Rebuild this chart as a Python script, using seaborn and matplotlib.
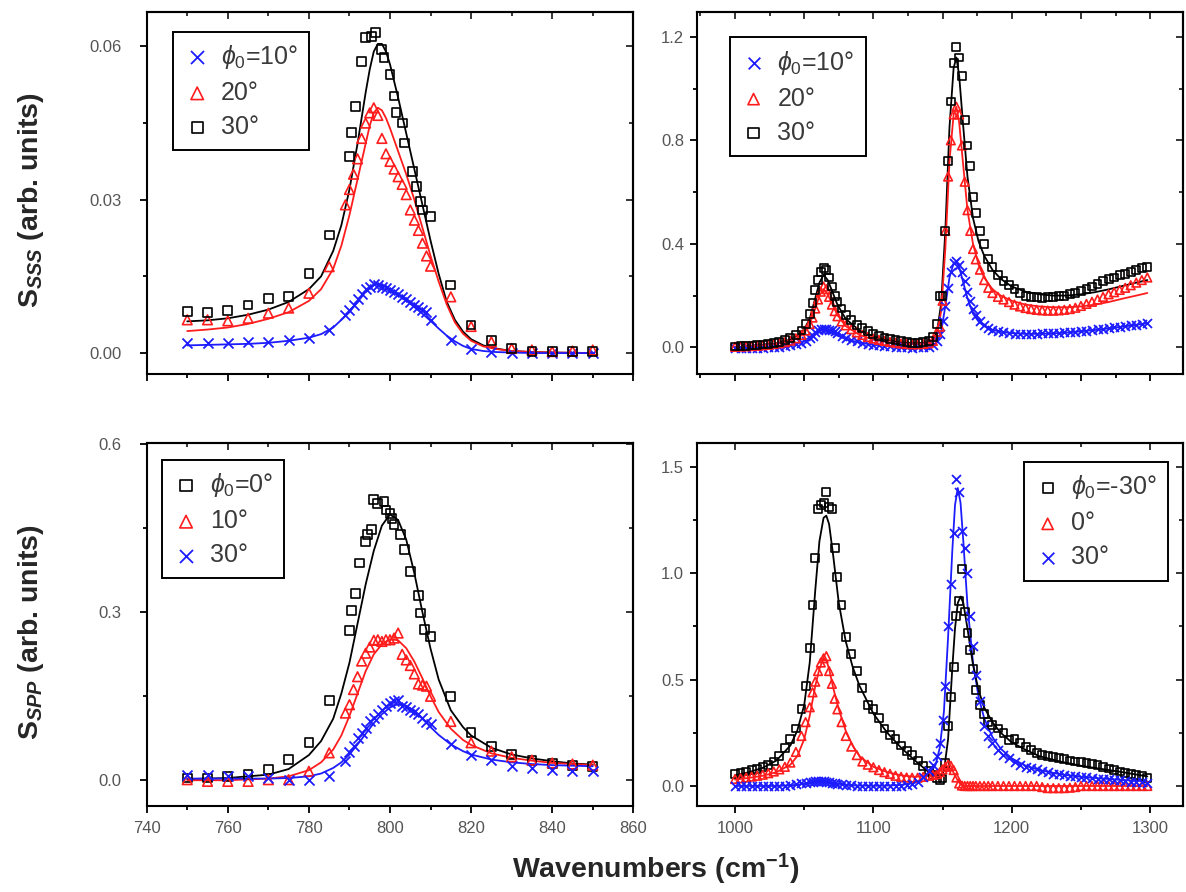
import seaborn as sns
import matplotlib.pyplot as plt
from matplotlib.ticker import MultipleLocator, FormatStrFormatter

# ---------------- top left: S_SSS, 750-850 cm-1 ----------------
a_x_blue = [750, 755, 760, 765, 770, 775, 780, 785,
            789, 790, 791, 792, 793, 794, 795, 796, 797, 798, 799, 800, 801,
            802, 803, 804, 805, 806, 807, 808, 809, 810,
            815, 820, 825, 830, 835, 840, 845, 850]
a_y_blue = [0.002, 0.002, 0.002, 0.0022, 0.0022, 0.0025, 0.003, 0.0045,
            0.0075, 0.0085, 0.0095, 0.0105, 0.0115, 0.0125, 0.013, 0.0135, 0.0133, 0.013, 0.0127, 0.0123, 0.012,
            0.0115, 0.011, 0.0105, 0.010, 0.0095, 0.009, 0.0085, 0.008, 0.0065,
            0.0025, 0.0008, 0.0002, 0.0, 0.0, 0.0, 0.0, 0.0]
a_x_red = a_x_blue
a_y_red = [0.0065, 0.0065, 0.0063, 0.0068, 0.0078, 0.0088, 0.0117, 0.0169,
           0.029, 0.032, 0.035, 0.038, 0.042, 0.045, 0.047, 0.048, 0.0465, 0.042, 0.039, 0.0375, 0.036,
           0.0345, 0.033, 0.031, 0.028, 0.026, 0.024, 0.0215, 0.019, 0.017,
           0.011, 0.0052, 0.0022, 0.0009, 0.0006, 0.0003, 0.0004, 0.0006]
a_x_black = [750, 755, 760, 765, 770, 775, 780, 785,
             790, 790.5, 791.5, 793, 794, 795.5, 796.5, 798, 798.5, 800, 801, 801.5,
             803, 803.5, 805.5, 806.5, 807.5, 808, 810,
             815, 820, 825, 830, 835, 840, 845, 850]
a_y_black = [0.0081, 0.0079, 0.0084, 0.0094, 0.0107, 0.011, 0.0156, 0.0231,
             0.0385, 0.0431, 0.0483, 0.0571, 0.0617, 0.062, 0.0627, 0.0594, 0.0578, 0.0545, 0.0503, 0.047,
             0.045, 0.0411, 0.0356, 0.0326, 0.0297, 0.028, 0.0267,
             0.0133, 0.0055, 0.0025, 0.0009, 0.0003, 0.0003, 0.0003, 0.0003]
a_fit_x = [750, 755, 760, 765, 770, 775, 780, 783, 786, 788, 790, 792, 794,
           795, 796, 797, 798, 799, 800, 802, 804, 806, 808, 810, 812, 814, 816, 818, 820,
           823, 826, 830, 835, 840, 850]
a_fit_black = [0.0062, 0.0064, 0.0068, 0.0075, 0.0085, 0.0100, 0.0125, 0.015, 0.020, 0.025, 0.032, 0.041, 0.051,
               0.0555, 0.0590, 0.0605, 0.0605, 0.059, 0.0565, 0.050, 0.043, 0.036, 0.029, 0.022, 0.0155, 0.010,
               0.0065, 0.0042, 0.0027, 0.0015, 0.0009, 0.0004, 0.0002, 0.0001, 0.0]
a_fit_red = [0.0043, 0.0046, 0.005, 0.0057, 0.0067, 0.008, 0.0102, 0.0125, 0.0165, 0.021, 0.027, 0.034, 0.041,
             0.0445, 0.047, 0.048, 0.0475, 0.046, 0.044, 0.0395, 0.035, 0.030, 0.0245, 0.019, 0.014, 0.0095,
             0.006, 0.0038, 0.0024, 0.0013, 0.0008, 0.0004, 0.0002, 0.0001, 0.0]
a_fit_blue = [0.0015, 0.0016, 0.0017, 0.0018, 0.002, 0.0024, 0.003, 0.0037, 0.005, 0.0065, 0.008, 0.010, 0.012,
              0.0127, 0.0133, 0.0135, 0.0133, 0.013, 0.0125, 0.0115, 0.0103, 0.009, 0.0077, 0.0063, 0.0048, 0.0034,
              0.0023, 0.0014, 0.0008, 0.0004, 0.0002, 0.0001, 0.0, 0.0, 0.0]

# ---------------- wavenumber grid of the 1000-1300 spectra ----------------
wn_hi = [1000, 1004, 1008, 1012, 1016, 1020, 1024, 1028, 1032, 1036, 1040, 1044, 1048, 1051, 1054,
         1056, 1058, 1060, 1062, 1064, 1066, 1068, 1070, 1072, 1074, 1077, 1080,
         1084, 1088, 1092, 1096, 1100, 1104, 1108, 1112, 1116, 1120, 1124, 1128, 1132, 1136, 1140, 1143, 1146,
         1148, 1150, 1152, 1154, 1156, 1158, 1160, 1162, 1164, 1166, 1168, 1170, 1172, 1174,
         1177, 1180, 1183, 1186,
         1190, 1194, 1198, 1202, 1206, 1210, 1214, 1218, 1222, 1226, 1230, 1234, 1238, 1242, 1246,
         1250, 1254, 1258, 1262, 1266, 1270, 1274, 1278, 1282, 1286, 1290, 1294, 1298]

# ---------------- top right: S_SSS, 1000-1300 cm-1 ----------------
b_y_blue = [-0.003, -0.003, -0.002, -0.003, -0.002, -0.002, 0.0, 0.0, 0.003, 0.005, 0.008, 0.012, 0.018, 0.025, 0.035,
            0.045, 0.06, 0.066, 0.07, 0.071, 0.07, 0.068, 0.066, 0.062, 0.056, 0.045, 0.036,
            0.029, 0.023, 0.018, 0.014, 0.010, 0.008, 0.006, 0.004, 0.002, 0.001, 0.0, -0.001, 0.0, 0.0, 0.002, 0.008, 0.025,
            0.05, 0.10, 0.16, 0.23, 0.29, 0.325, 0.335, 0.32, 0.29, 0.255, 0.215, 0.18, 0.15, 0.125,
            0.10, 0.085, 0.075, 0.068,
            0.062, 0.058, 0.055, 0.053, 0.052, 0.052, 0.052, 0.053, 0.054, 0.055, 0.056, 0.057, 0.058, 0.060, 0.061,
            0.063, 0.065, 0.067, 0.069, 0.072, 0.074, 0.077, 0.080, 0.082, 0.085, 0.088, 0.091, 0.094]
b_y_red = [0.002, 0.003, 0.004, 0.005, 0.006, 0.008, 0.010, 0.013, 0.016, 0.020, 0.026, 0.035, 0.048, 0.065, 0.09,
           0.115, 0.15, 0.185, 0.215, 0.235, 0.225, 0.195, 0.165, 0.14, 0.12, 0.10, 0.085,
           0.07, 0.058, 0.048, 0.04, 0.034, 0.029, 0.025, 0.021, 0.018, 0.015, 0.013, 0.012, 0.012, 0.013, 0.016, 0.025, 0.06,
           0.08, 0.18, 0.45, 0.66, 0.80, 0.90, 0.93, 0.90, 0.78, 0.64, 0.53, 0.45, 0.38, 0.34,
           0.30, 0.26, 0.23, 0.21,
           0.195, 0.185, 0.175, 0.165, 0.158, 0.152, 0.148, 0.145, 0.143, 0.142, 0.142, 0.143, 0.145, 0.148, 0.153,
           0.16, 0.168, 0.176, 0.185, 0.195, 0.205, 0.213, 0.222, 0.23, 0.24, 0.25, 0.26, 0.27]
b_y_black = [0.003, 0.004, 0.005, 0.007, 0.009, 0.011, 0.014, 0.017, 0.021, 0.027, 0.035, 0.047, 0.065, 0.09, 0.13,
             0.17, 0.22, 0.26, 0.29, 0.305, 0.30, 0.27, 0.235, 0.20, 0.175, 0.15, 0.125,
             0.105, 0.088, 0.074, 0.062, 0.053, 0.045, 0.038, 0.032, 0.027, 0.023, 0.02, 0.018, 0.018, 0.02, 0.026, 0.04, 0.09,
             0.20, 0.20, 0.45, 0.72, 0.95, 1.10, 1.16, 1.12, 1.05, 0.88, 0.78, 0.70, 0.58, 0.52,
             0.45, 0.40, 0.34, 0.31,
             0.28, 0.255, 0.24, 0.225, 0.21, 0.2, 0.195, 0.193, 0.192, 0.193, 0.195, 0.197, 0.20, 0.205, 0.21,
             0.217, 0.225, 0.235, 0.245, 0.255, 0.265, 0.27, 0.278, 0.285, 0.292, 0.30, 0.305, 0.31]
b_fit_x = [1000, 1010, 1020, 1030, 1040, 1045, 1050, 1054, 1058, 1061, 1064, 1067, 1070, 1074, 1080,
           1090, 1100, 1110, 1120, 1130, 1138, 1143, 1146, 1149, 1152, 1155, 1158, 1160, 1162, 1165,
           1168, 1172, 1176, 1180, 1186, 1192, 1200, 1210, 1220, 1230, 1240, 1250, 1260, 1270, 1280,
           1290, 1298]
b_fit_black = [0.0, 0.005, 0.01, 0.016, 0.03, 0.045, 0.07, 0.11, 0.19, 0.25, 0.28, 0.26, 0.22, 0.165, 0.11,
               0.065, 0.042, 0.028, 0.02, 0.016, 0.018, 0.03, 0.06, 0.17, 0.45, 0.85, 1.08, 1.12, 1.05, 0.85,
               0.66, 0.5, 0.41, 0.355, 0.3, 0.265, 0.235, 0.215, 0.205, 0.2, 0.2, 0.205, 0.213, 0.224, 0.237,
               0.25, 0.26]
b_fit_red = [0.0, 0.004, 0.008, 0.013, 0.024, 0.035, 0.055, 0.09, 0.15, 0.2, 0.225, 0.205, 0.17, 0.125, 0.082,
             0.048, 0.03, 0.02, 0.014, 0.012, 0.014, 0.025, 0.05, 0.14, 0.38, 0.72, 0.9, 0.93, 0.87, 0.7,
             0.53, 0.4, 0.32, 0.27, 0.225, 0.2, 0.18, 0.165, 0.158, 0.155, 0.155, 0.158, 0.165, 0.175, 0.188,
             0.2, 0.21]
b_fit_blue = [0.0, 0.0, 0.001, 0.003, 0.008, 0.014, 0.025, 0.04, 0.058, 0.067, 0.07, 0.067, 0.058, 0.045, 0.032,
              0.018, 0.01, 0.005, 0.002, 0.001, 0.002, 0.008, 0.02, 0.06, 0.16, 0.27, 0.325, 0.33, 0.31, 0.25,
              0.19, 0.13, 0.1, 0.082, 0.068, 0.06, 0.055, 0.052, 0.052, 0.054, 0.057, 0.062, 0.067, 0.073, 0.08,
              0.087, 0.093]

# ---------------- bottom left: S_SPP, 750-850 cm-1 ----------------
c_x_black = [750, 755, 760, 765, 770, 775, 780, 785,
             790, 790.5, 791.5, 792.5, 794, 794.5, 795.5, 796, 797, 798.5, 799, 800, 800.5,
             801, 802.5, 803.5, 805, 807, 807.5, 808.5, 810,
             815, 820, 825, 830, 835, 840, 845, 850]
c_y_black = [0.004, 0.004, 0.007, 0.010, 0.019, 0.037, 0.067, 0.142,
             0.268, 0.303, 0.333, 0.388, 0.427, 0.439, 0.448, 0.501, 0.495, 0.498, 0.483, 0.477, 0.468,
             0.457, 0.439, 0.412, 0.373, 0.330, 0.299, 0.269, 0.257,
             0.150, 0.085, 0.061, 0.046, 0.035, 0.03, 0.027, 0.025]
c_x_tri = [750, 755, 760, 765, 770, 775, 780, 785,
           789, 790, 791, 792, 793, 794, 795, 796, 797, 798, 799, 800, 801,
           802, 803, 804, 805, 806, 807, 808, 809, 810,
           815, 820, 825, 830, 835, 840, 845, 850]
c_y_red = [0.001, -0.002, -0.002, -0.002, 0.001, 0.001, 0.016, 0.049,
           0.12, 0.135, 0.162, 0.185, 0.213, 0.227, 0.238, 0.250, 0.251, 0.248, 0.251, 0.251, 0.254,
           0.263, 0.225, 0.215, 0.205, 0.19, 0.172, 0.17, 0.168, 0.15,
           0.105, 0.067, 0.052, 0.042, 0.036, 0.031, 0.029, 0.027]
c_y_blue = [0.010, 0.010, 0.007, 0.007, 0.004, 0.0, 0.0, 0.007,
            0.034, 0.05, 0.062, 0.076, 0.085, 0.093, 0.105, 0.111, 0.118, 0.125, 0.132, 0.138, 0.142,
            0.144, 0.132, 0.13, 0.126, 0.122, 0.118, 0.112, 0.104, 0.10,
            0.064, 0.046, 0.037, 0.025, 0.022, 0.019, 0.016, 0.016]
c_fit_x = [750, 760, 770, 775, 780, 783, 786, 788, 790, 792, 794, 796, 798, 800, 802,
           804, 806, 808, 810, 812, 815, 818, 820, 825, 830, 835, 840, 845, 850]
c_fit_black = [0.002, 0.004, 0.010, 0.02, 0.045, 0.07, 0.11, 0.155, 0.21, 0.28, 0.35, 0.41, 0.455, 0.475, 0.465,
               0.43, 0.37, 0.30, 0.235, 0.18, 0.125, 0.095, 0.08, 0.058, 0.046, 0.039, 0.034, 0.03, 0.028]
c_fit_red = [0.0, 0.0, 0.003, 0.007, 0.018, 0.032, 0.055, 0.08, 0.115, 0.155, 0.195, 0.225, 0.243, 0.252, 0.25,
             0.236, 0.212, 0.182, 0.15, 0.122, 0.092, 0.072, 0.063, 0.048, 0.04, 0.035, 0.031, 0.029, 0.027]
c_fit_blue = [0.003, 0.003, 0.003, 0.004, 0.007, 0.012, 0.022, 0.032, 0.046, 0.064, 0.083, 0.102, 0.118, 0.13, 0.136,
              0.133, 0.124, 0.11, 0.095, 0.081, 0.064, 0.052, 0.046, 0.037, 0.032, 0.029, 0.027, 0.026, 0.025]

# ---------------- bottom right: S_SPP, 1000-1300 cm-1 ----------------
d_y_black = [0.058, 0.062, 0.068, 0.074, 0.08, 0.088, 0.10, 0.115, 0.14, 0.18, 0.22, 0.27, 0.36, 0.47, 0.65,
             0.85, 1.07, 1.30, 1.32, 1.33, 1.38, 1.31, 1.30, 1.12, 0.98, 0.85, 0.70,
             0.62, 0.54, 0.46, 0.38, 0.36, 0.32, 0.27, 0.24, 0.22, 0.19, 0.165, 0.145, 0.12, 0.095, 0.07, 0.05, 0.035,
             0.03, 0.035, 0.11, 0.28, 0.42, 0.56, 0.80, 0.87, 1.02, 0.82, 0.72, 0.64, 0.55, 0.45,
             0.38, 0.34, 0.30, 0.285,
             0.27, 0.25, 0.215, 0.22, 0.20, 0.185, 0.17, 0.155, 0.145, 0.14, 0.135, 0.13, 0.125, 0.12, 0.115,
             0.112, 0.108, 0.104, 0.098, 0.09, 0.082, 0.075, 0.068, 0.062, 0.057, 0.05, 0.045, 0.038]
d_y_red = [0.033, 0.036, 0.04, 0.044, 0.048, 0.053, 0.06, 0.068, 0.078, 0.09, 0.11, 0.16, 0.235, 0.30, 0.37,
           0.44, 0.49, 0.54, 0.58, 0.60, 0.61, 0.54, 0.48, 0.41, 0.36, 0.30, 0.235,
           0.185, 0.145, 0.115, 0.10, 0.088, 0.075, 0.065, 0.057, 0.048, 0.043, 0.04, 0.039, 0.039, 0.043, 0.048, 0.052, 0.056,
           0.065, 0.078, 0.09, 0.10, 0.095, 0.075, 0.04, 0.012, 0.002, 0.0, 0.0, 0.0, 0.0, 0.0,
           0.0, 0.0, 0.0, 0.0,
           0.0, 0.0, 0.0, 0.0, 0.0, 0.0, 0.0, 0.0, -0.005, -0.01, -0.01, -0.01, -0.01, -0.008, -0.005,
           0.0, 0.0, 0.0, 0.0, 0.0, 0.0, 0.0, 0.0, 0.0, 0.0, 0.0, 0.0, 0.0]
d_y_blue = [0.0, 0.0, 0.0, 0.0, 0.0, 0.0, 0.0, 0.0, 0.0, 0.002, 0.005, 0.008, 0.012, 0.015, 0.018,
            0.02, 0.022, 0.022, 0.023, 0.022, 0.02, 0.018, 0.015, 0.012, 0.01, 0.008, 0.006,
            0.004, 0.002, 0.0, 0.0, 0.0, 0.0, 0.0, 0.0, 0.0, 0.002, 0.005, 0.01, 0.02, 0.04, 0.07, 0.10, 0.14,
            0.20, 0.31, 0.47, 0.75, 0.95, 1.19, 1.44, 1.38, 1.20, 1.12, 1.0, 0.80, 0.66, 0.52,
            0.40, 0.28, 0.235, 0.20,
            0.17, 0.145, 0.13, 0.115, 0.10, 0.09, 0.085, 0.078, 0.07, 0.065, 0.058, 0.055, 0.05, 0.048, 0.045,
            0.042, 0.04, 0.038, 0.035, 0.033, 0.031, 0.028, 0.026, 0.023, 0.021, 0.019, 0.017, 0.015]
d_fit_x = [1000, 1010, 1020, 1030, 1040, 1045, 1050, 1054, 1058, 1061, 1064, 1066, 1068, 1071, 1075,
           1080, 1085, 1090, 1100, 1110, 1120, 1130, 1140, 1145, 1148, 1151, 1154, 1157, 1159, 1161,
           1163, 1165, 1168, 1172, 1176, 1180, 1186, 1192, 1200, 1210, 1220, 1235, 1250, 1265, 1280,
           1298]
d_fit_black = [0.05, 0.065, 0.085, 0.12, 0.19, 0.26, 0.38, 0.58, 0.92, 1.15, 1.26, 1.27, 1.23, 1.08, 0.86,
               0.68, 0.56, 0.47, 0.34, 0.25, 0.18, 0.12, 0.065, 0.045, 0.04, 0.07, 0.22, 0.55, 0.74, 0.86,
               0.89, 0.86, 0.74, 0.57, 0.45, 0.37, 0.3, 0.25, 0.205, 0.17, 0.14, 0.115, 0.095, 0.08, 0.065,
               0.045]
d_fit_red = [0.03, 0.038, 0.048, 0.065, 0.1, 0.14, 0.22, 0.33, 0.47, 0.55, 0.6, 0.59, 0.55, 0.46, 0.36,
             0.26, 0.19, 0.14, 0.09, 0.065, 0.05, 0.043, 0.05, 0.065, 0.075, 0.085, 0.09, 0.075, 0.05, 0.025,
             0.008, 0.002, 0.0, 0.0, 0.0, 0.0, 0.0, 0.0, 0.0, 0.0, 0.0, 0.0, 0.0, 0.0, 0.0,
             0.0]
d_fit_blue = [0.0, 0.0, 0.0, 0.0, 0.003, 0.006, 0.01, 0.014, 0.018, 0.02, 0.02, 0.019, 0.017, 0.014, 0.01,
              0.006, 0.003, 0.002, 0.001, 0.002, 0.005, 0.015, 0.05, 0.1, 0.18, 0.35, 0.7, 1.1, 1.32, 1.4,
              1.33, 1.15, 0.85, 0.58, 0.42, 0.32, 0.23, 0.175, 0.13, 0.095, 0.075, 0.055, 0.043, 0.035, 0.028,
              0.022]

legend_top = [r'$\phi_{\mathit{0}}$=10°', '20°', '30°']
legend_bl = [r'$\phi_{\mathit{0}}$=0°', '10°', '30°']
legend_br = [r'$\phi_{\mathit{0}}$=-30°', '0°', '30°']

BLUE = '#1c1cff'
RED = '#ff1c1c'
BLACK = 'black'

sns.set_theme(style='ticks')
plt.rcParams['font.family'] = ['Liberation Sans', 'DejaVu Sans']
plt.rcParams['mathtext.fontset'] = 'custom'
plt.rcParams['mathtext.rm'] = 'Liberation Sans'
plt.rcParams['mathtext.it'] = 'Liberation Sans:italic'
plt.rcParams['mathtext.bf'] = 'Liberation Sans:bold'
if 'mathtext.bfit' in plt.rcParams:
    plt.rcParams['mathtext.bfit'] = 'Liberation Sans:italic:bold'

fig = plt.figure(figsize=(11.86, 8.92), dpi=100)
W, H = 1186, 892


def make_ax(x0, y0, x1, y1):
    return fig.add_axes([x0 / W, 1 - y1 / H, (x1 - x0) / W, (y1 - y0) / H])


def style(ax, xlim, ylim, xmaj, xmin, ymaj, ymin, yfmt, xlabels, ypad):
    ax.set_xlim(*xlim)
    ax.set_ylim(*ylim)
    for s in ax.spines.values():
        s.set_linewidth(1.5)
        s.set_color('black')
    ax.xaxis.set_major_locator(MultipleLocator(xmaj))
    ax.xaxis.set_minor_locator(MultipleLocator(xmin))
    ax.yaxis.set_major_locator(MultipleLocator(ymaj))
    ax.yaxis.set_minor_locator(MultipleLocator(ymin))
    ax.yaxis.set_major_formatter(FormatStrFormatter(yfmt))
    ax.tick_params(which='both', direction='out', width=1.3, color='black',
                   labelsize=12, labelcolor='#555555', labelbottom=xlabels)
    ax.tick_params(axis='x', pad=6)
    ax.tick_params(axis='y', pad=ypad)
    ax.tick_params(which='major', length=5)
    ax.tick_params(which='minor', length=3)
    top = ax.secondary_xaxis('top')
    top.xaxis.set_major_locator(MultipleLocator(xmaj))
    top.xaxis.set_minor_locator(MultipleLocator(xmin))
    top.tick_params(which='both', direction='in', width=1.3, labeltop=False)
    top.tick_params(which='major', length=5)
    top.tick_params(which='minor', length=3)
    top.spines['top'].set_linewidth(1.5)
    right = ax.secondary_yaxis('right')
    right.yaxis.set_major_locator(MultipleLocator(ymaj))
    right.yaxis.set_minor_locator(MultipleLocator(ymin))
    right.tick_params(which='both', direction='in', width=1.3, labelright=False)
    right.tick_params(which='major', length=5)
    right.tick_params(which='minor', length=3)
    right.spines['right'].set_linewidth(1.5)
    ax.set_xlabel('')
    ax.set_ylabel('')


def fit(ax, x, y, color):
    sns.lineplot(x=x, y=y, color=color, lw=1.3, ax=ax, errorbar=None)


def pts(ax, x, y, kind, label, size):
    if kind == 's':
        sns.scatterplot(x=x, y=y, marker='s', s=size, facecolor='none', edgecolor=BLACK,
                        linewidth=1.2, label=label, ax=ax, zorder=3)
    elif kind == '^':
        sns.scatterplot(x=x, y=y, marker='^', s=size * 1.2, facecolor='none', edgecolor=RED,
                        linewidth=1.2, label=label, ax=ax, zorder=3)
    else:
        sns.scatterplot(x=x, y=y, marker='x', s=size * 1.3, color=BLUE, edgecolor=BLUE,
                        linewidth=1.3, label=label, ax=ax, zorder=3)


def legend(ax, loc, anchor):
    leg = ax.legend(loc=loc, bbox_to_anchor=anchor, borderaxespad=0, fontsize=18,
                    frameon=True, fancybox=False, framealpha=1, edgecolor='black',
                    handletextpad=0.45, labelspacing=0.4, borderpad=0.45, handlelength=1.0,
                    markerscale=1.3)
    leg.get_frame().set_linewidth(1.4)
    for t in leg.get_texts():
        t.set_color('#3a3a3a')


# top left
ax = make_ax(146.7, 11.7, 633.3, 374)
fit(ax, a_fit_x, a_fit_black, BLACK)
fit(ax, a_fit_x, a_fit_red, RED)
fit(ax, a_fit_x, a_fit_blue, BLUE)
pts(ax, a_x_blue, a_y_blue, 'x', legend_top[0], 40)
pts(ax, a_x_red, a_y_red, '^', legend_top[1], 40)
pts(ax, a_x_black, a_y_black, 's', legend_top[2], 40)
style(ax, (740, 860), (-0.0041, 0.0668), 20, 10, 0.03, 0.015, '%.2f', False, 13)
legend(ax, 'upper left', (0.055, 0.945))

# top right
ax = make_ax(696.7, 11.7, 1183.3, 374)
fit(ax, b_fit_x, b_fit_blue, BLUE)
fit(ax, b_fit_x, b_fit_black, BLACK)
fit(ax, b_fit_x, b_fit_red, RED)
pts(ax, wn_hi, b_y_blue, 'x', legend_top[0], 32)
pts(ax, wn_hi, b_y_red, '^', legend_top[1], 32)
pts(ax, wn_hi, b_y_black, 's', legend_top[2], 32)
style(ax, (972.3, 1324), (-0.103, 1.297), 50, 25, 0.4, 0.2, '%.1f', False, 4)
legend(ax, 'upper left', (0.068, 0.929))

# bottom left
ax = make_ax(146.7, 443.3, 633.3, 806)
fit(ax, c_fit_x, c_fit_black, BLACK)
fit(ax, c_fit_x, c_fit_red, RED)
fit(ax, c_fit_x, c_fit_blue, BLUE)
pts(ax, c_x_black, c_y_black, 's', legend_bl[0], 40)
pts(ax, c_x_tri, c_y_red, '^', legend_bl[1], 40)
pts(ax, c_x_tri, c_y_blue, 'x', legend_bl[2], 40)
style(ax, (740, 860), (-0.046, 0.602), 20, 10, 0.3, 0.15, '%.1f', True, 13)
legend(ax, 'upper left', (0.032, 0.954))

# bottom right
ax = make_ax(696.7, 443.3, 1183.3, 806)
fit(ax, d_fit_x, d_fit_red, RED)
fit(ax, d_fit_x, d_fit_blue, BLUE)
fit(ax, d_fit_x, d_fit_black, BLACK)
pts(ax, wn_hi, d_y_black, 's', legend_br[0], 32)
pts(ax, wn_hi, d_y_red, '^', legend_br[1], 32)
pts(ax, wn_hi, d_y_blue, 'x', legend_br[2], 32)
style(ax, (972.3, 1324), (-0.094, 1.61), 100, 50, 0.5, 0.25, '%.1f', True, 4)
legend(ax, 'upper right', (0.969, 0.948))

fig.text(31 / W, 1 - 200 / H, r'$\mathbf{S}_{\mathbfit{SSS}}$ (arb. units)', rotation=90,
         ha='center', va='center', fontsize=20.5, fontweight='bold')
fig.text(31 / W, 1 - 632 / H, r'$\mathbf{S}_{\mathbfit{SPP}}$ (arb. units)', rotation=90,
         ha='center', va='center', fontsize=20.5, fontweight='bold')
fig.text(656 / W, 1 - 869 / H, r'Wavenumbers (cm$^{\mathbf{-1}}$)', ha='center', va='center',
         fontsize=20.5, fontweight='bold')

fig.savefig('out.png', dpi=100)
